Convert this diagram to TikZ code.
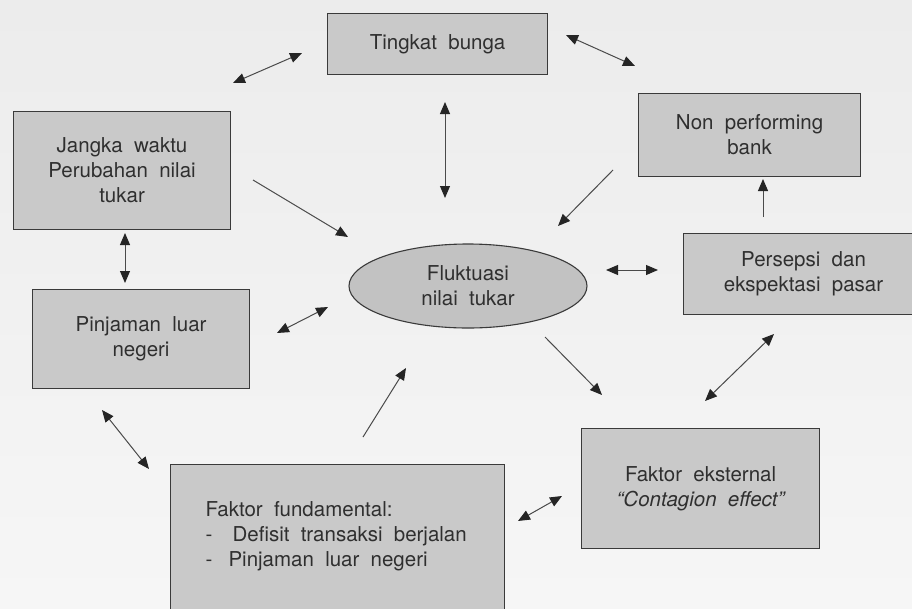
\documentclass[tikz,border=0pt]{standalone}
\usepackage{fontspec}
\setmainfont{TeX Gyre Heros}
\usetikzlibrary{arrows.meta,shapes.geometric}
\definecolor{bgtop}{HTML}{ECECEC}
\definecolor{bgbot}{HTML}{F6F6F6}
\definecolor{boxfill}{HTML}{C9C9C9}
\definecolor{ellfill}{HTML}{C2C2C2}
\definecolor{ink}{HTML}{3A3A3A}
\definecolor{linec}{HTML}{4A4A4A}
\definecolor{tipc}{HTML}{252525}
\definecolor{txt}{HTML}{2F2F2F}
\newcommand\dglabel{\fontsize{20.5pt}{25pt}\selectfont\spaceskip=0.55em plus 0.1em\relax}
\begin{document}
\begin{tikzpicture}[x=1pt,y=-1pt,
  box/.style={draw=ink, line width=1.1pt, fill=boxfill, inner sep=0pt,
    align=center, text=txt, font=\dglabel, anchor=north west},
  oval/.style={ellipse, draw=ink, line width=1.1pt, fill=ellfill, inner sep=0pt,
    align=center, text=txt, font=\dglabel},
  conn/.style={draw=linec, line width=1pt},
  both/.style={conn, {Triangle[length=12pt,width=10pt,color=tipc]}-{Triangle[length=12pt,width=10pt,color=tipc]}},
  one/.style={conn, -{Triangle[length=12pt,width=10pt,color=tipc]}}
]
\useasboundingbox (0,0) rectangle (912,608);
\clip (0,0) rectangle (912,608);
\shade[top color=bgtop, bottom color=bgbot] (0,0) rectangle (912,608);

% boxes
\node[box, minimum width=220pt, minimum height=61pt] (tb) at (327,13) {Tingkat bunga};
\node[box, minimum width=222pt, minimum height=83pt] (np) at (638,93) {Non performing\\bank};
\node[box, minimum width=217pt, minimum height=118pt] (jw) at (13,111) {Jangka waktu\\Perubahan nilai\\tukar};
\node[box, minimum width=217pt, minimum height=99pt] (pl) at (32,289) {Pinjaman luar\\negeri};
\node[box, minimum width=240pt, minimum height=81pt] (pe) at (683,233) {Persepsi dan\\ekspektasi pasar};
\node[box, minimum width=238pt, minimum height=120pt] (fe) at (581,428) {Faktor eksternal\\{\itshape “Contagion effect”}};
\node[box, inner xsep=35pt, inner ysep=37pt] (ff) at (170,464)
  {\parbox[t][140pt][t]{264pt}{\dglabel\raggedright
   Faktor fundamental:\\
   \makebox[27pt][l]{-}Defisit transaksi berjalan\\
   \makebox[23pt][l]{-}Pinjaman luar negeri}};
\node[oval, minimum width=238pt, minimum height=84pt] (fl) at (468,286) {Fluktuasi\\nilai tukar};

% connector end points
\coordinate (a1s) at (233,83);  \coordinate (a1e) at (302,53);
\coordinate (a2s) at (566,35);  \coordinate (a2e) at (635,66);
\coordinate (a3s) at (445,102); \coordinate (a3e) at (445,198);
\coordinate (a4s) at (253,180); \coordinate (a4e) at (348,237);
\coordinate (a5s) at (613,170); \coordinate (a5e) at (558,226);
\coordinate (a6s) at (763,217); \coordinate (a6e) at (763,179);
\coordinate (a7s) at (606,270); \coordinate (a7e) at (658,270);
\coordinate (a8s) at (125,233); \coordinate (a8e) at (125,283);
\coordinate (a9s) at (277,333); \coordinate (a9e) at (328,307);
\coordinate (a10s) at (102,410); \coordinate (a10e) at (149,469);
\coordinate (a11s) at (363,437); \coordinate (a11e) at (406,368);
\coordinate (a12s) at (545,337); \coordinate (a12e) at (602,395);
\coordinate (a13s) at (774,334); \coordinate (a13e) at (705,401);
\coordinate (a14s) at (518,521); \coordinate (a14e) at (562,496);

\draw[both] (a1s) -- (a1e);
\draw[both] (a2s) -- (a2e);
\draw[both] (a3s) -- (a3e);
\draw[one] (a4s) -- (a4e);
\draw[one] (a5s) -- (a5e);
\draw[one] (a6s) -- (a6e);
\draw[both] (a7s) -- (a7e);
\draw[both] (a8s) -- (a8e);
\draw[both] (a9s) -- (a9e);
\draw[both] (a10s) -- (a10e);
\draw[one] (a11s) -- (a11e);
\draw[one] (a12s) -- (a12e);
\draw[both] (a13s) -- (a13e);
\draw[both] (a14s) -- (a14e);
\end{tikzpicture}
\end{document}
